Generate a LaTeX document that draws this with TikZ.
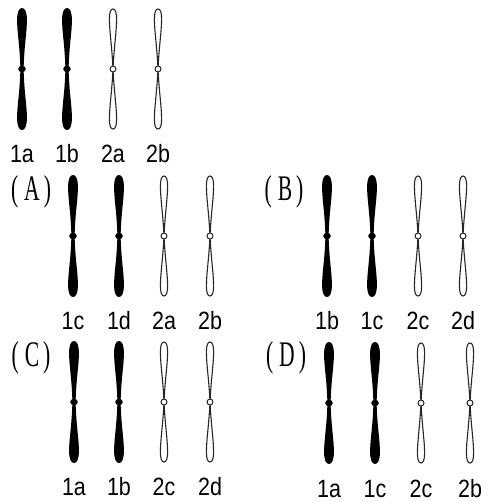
\documentclass[tikz,border=0pt]{standalone}
\usepackage{fontspec}
\newfontfamily\tagfont[FakeStretch=0.86]{Liberation Sans}
\newfontfamily\optfont[FakeStretch=0.6]{Liberation Serif}

\tikzset{
  chrtag/.style={font=\tagfont\fontsize{25}{25}\selectfont, inner sep=0pt},
  opttag/.style={font=\optfont\fontsize{36}{36}\selectfont, inner sep=0pt},
  % dark chromosome: both arms as one filled outline, centromere dot on top
  pics/dark/.style={code={
    \fill[black] (0,-61)
      .. controls (-3,-61) and (-4.9,-57) .. (-4.9,-49)
      .. controls (-4.9,-36) and (-2.2,-24) .. (-1.6,0)
      .. controls (-2.2,24) and (-4.9,36) .. (-4.9,49)
      .. controls (-4.9,57) and (-3,61) .. (0,61)
      .. controls (3,61) and (4.9,57) .. (4.9,49)
      .. controls (4.9,36) and (2.2,24) .. (1.6,0)
      .. controls (2.2,-24) and (4.9,-36) .. (4.9,-49)
      .. controls (4.9,-57) and (3,-61) .. (0,-61) -- cycle;
    \fill[black] (0,0) ellipse (3.8 and 3.2);
  }},
  % light chromosome: two outlined loops meeting at an open centromere
  pics/light/.style={code={
    \draw[black!85, line width=1.1pt, fill=white] (0,0)
      .. controls (-1,-22) and (-3.6,-38) .. (-3.6,-50)
      .. controls (-3.6,-57) and (-2.2,-60) .. (0,-60)
      .. controls (2.2,-60) and (3.6,-57) .. (3.6,-50)
      .. controls (3.6,-38) and (1,-22) .. (0,0)
      .. controls (-1,22) and (-3.6,38) .. (-3.6,50)
      .. controls (-3.6,57) and (-2.2,60) .. (0,60)
      .. controls (2.2,60) and (3.6,57) .. (3.6,50)
      .. controls (3.6,38) and (1,22) .. (0,0);
    \draw[black!85, line width=1pt, fill=white] (0,0) circle (3);
  }},
}

\begin{document}
\begin{tikzpicture}[x=1pt, y=-1pt]
\useasboundingbox (0,0) rectangle (490,502);

% parent cell
\foreach \x/\k/\t in {22/dark/1a, 67/dark/1b, 113/light/2a, 158/light/2b} {
  \pic at (\x,69) {\k};
  \node[chrtag] (p-\t) at (\x,154) {\t};
}

% option A
\node[opttag] (optA) at (31,192) {(\hspace{6pt}A\hspace{4pt})};
\foreach \x/\k/\t in {73/dark/1c, 119/dark/1d, 164/light/2a, 210/light/2b} {
  \pic at (\x,236) {\k};
  \node[chrtag] (a-\t) at (\x,321) {\t};
}

% option B
\node[opttag] (optB) at (284,192) {(\hspace{6pt}B\hspace{4pt})};
\foreach \x/\k/\t in {327/dark/1b, 372/dark/1c, 418/light/2c, 463/light/2d} {
  \pic at (\x,236) {\k};
  \node[chrtag] (b-\t) at (\x,321) {\t};
}

% option C
\node[opttag] (optC) at (31,358) {(\hspace{6pt}C\hspace{4pt})};
\foreach \x/\k/\t in {74/dark/1a, 119/dark/1b, 164/light/2c, 210/light/2d} {
  \pic at (\x,402) {\k};
  \node[chrtag] (c-\t) at (\x,487) {\t};
}

% option D
\node[opttag] (optD) at (286,358) {(\hspace{6pt}D\hspace{4pt})};
\foreach \x/\k/\t in {329/dark/1a, 375/dark/1c, 421/light/2c, 470/light/2b} {
  \pic at (\x,403) {\k};
  \node[chrtag] (d-\t) at (\x,489) {\t};
}
\end{tikzpicture}
\end{document}
